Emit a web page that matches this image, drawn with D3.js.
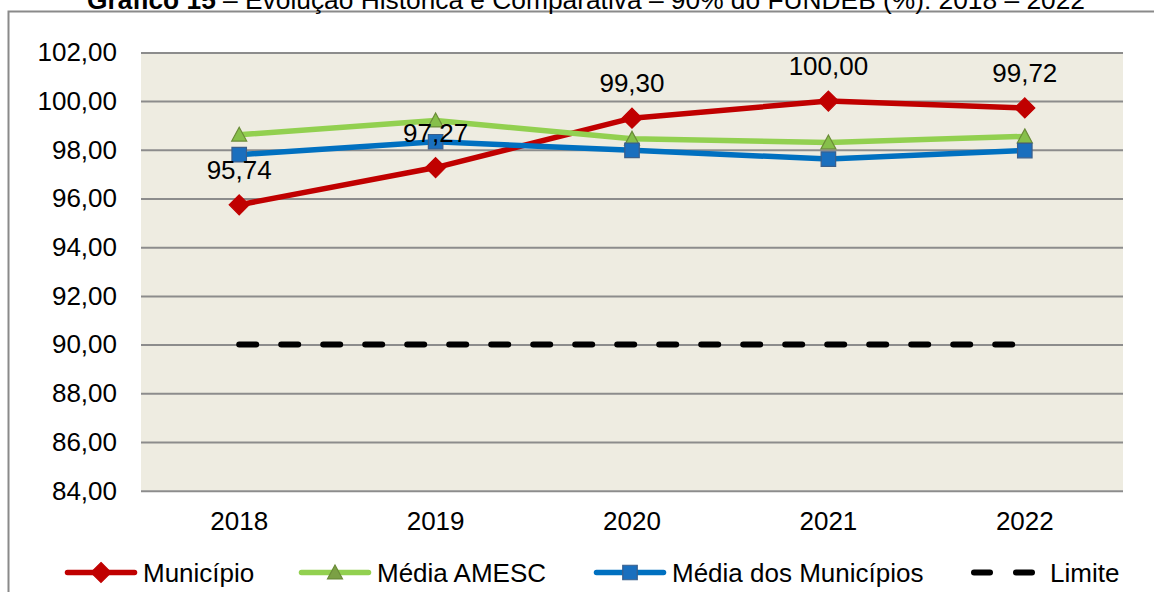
<!DOCTYPE html>
<html>
<head>
<meta charset="utf-8">
<script src="https://cdn.jsdelivr.net/npm/d3@7"></script>
<style>
    body { margin: 0; background: #fff; }
    svg { display: block; font-family: Arial, "Liberation Sans", sans-serif; }
</style>
</head>
<body>
<svg></svg>
<script>
const width = 1154, height = 592;

const years = ['2018', '2019', '2020', '2021', '2022'];
const municipio = [95.74, 97.27, 99.30, 100.00, 99.72];
const mediaAmesc = [98.62, 99.20, 98.45, 98.30, 98.55];
const mediaMunicipios = [97.80, 98.33, 97.98, 97.62, 97.97];
const limite = [90, 90, 90, 90, 90];
const yTicks = [84, 86, 88, 90, 92, 94, 96, 98, 100, 102];
const legendNames = ['Município', 'Média AMESC', 'Média dos Municípios', 'Limite'];

const ptBR = d3.formatLocale({decimal: ',', thousands: '.', grouping: [3], currency: ['R$', '']});
const fmt = ptBR.format('.2f');

const plot = {left: 141, right: 1123, top: 52.4, bottom: 490.7};

const x = d3.scaleBand().domain(years).range([plot.left, plot.right]).padding(0);
const y = d3.scaleLinear().domain([84, 102]).range([plot.bottom, plot.top]);
const cx = function (d) { return x(d) + x.bandwidth() / 2 };

const svg = d3.select('svg').attr('width', width).attr('height', height);

// moldura e título
svg.append('rect')
    .attr('x', 8.5).attr('y', 11.5)
    .attr('width', 1200).attr('height', 700)
    .attr('fill', 'none').attr('stroke', '#8a8a8a').attr('stroke-width', 2);

const title = svg.append('text')
    .attr('x', 87).attr('y', 9)
    .attr('textLength', 998).attr('lengthAdjust', 'spacingAndGlyphs')
    .style('font-size', '26px').attr('fill', '#000');
title.append('tspan').style('font-weight', 'bold').text('Gráfico 15');
title.append('tspan').text(' – Evolução Histórica e Comparativa – 90% do FUNDEB (%): 2018 – 2022');

// área do gráfico
svg.append('rect')
    .attr('x', plot.left).attr('y', plot.top)
    .attr('width', plot.right - plot.left).attr('height', plot.bottom - plot.top)
    .attr('fill', '#eeece1');

const yAxis = svg.append('g')
    .attr('transform', 'translate(' + plot.left + ',0)')
    .call(d3.axisLeft(y).tickValues(yTicks).tickFormat(fmt)
        .tickSize(-(plot.right - plot.left)).tickPadding(24));
yAxis.select('.domain').remove();
yAxis.selectAll('line').attr('stroke', '#8c8c8c').attr('stroke-width', 2);
yAxis.selectAll('text').style('font-size', '26px').attr('fill', '#000')
    .attr('font-family', null);

const xAxis = svg.append('g')
    .attr('transform', 'translate(0,' + plot.bottom + ')')
    .call(d3.axisBottom(x).tickSize(0).tickPadding(21));
xAxis.select('.domain').remove();
xAxis.selectAll('text').style('font-size', '26px').attr('fill', '#000')
    .attr('font-family', null);

// séries
function drawLine(values, color, w, dash) {
    const line = d3.line()
        .x(function (d, i) { return cx(years[i]) })
        .y(function (d) { return y(d) });
    return svg.append('path')
        .datum(values)
        .attr('d', line)
        .attr('fill', 'none')
        .attr('stroke', color)
        .attr('stroke-width', w)
        .attr('stroke-linejoin', 'round')
        .attr('stroke-linecap', dash ? 'round' : 'butt')
        .attr('stroke-dasharray', dash || null);
}

function drawMarkers(values, type, size, fill, stroke) {
    svg.append('g').selectAll('path')
        .data(values)
        .enter().append('path')
        .attr('d', d3.symbol().type(type).size(size))
        .attr('transform', function (d, i) {
            return 'translate(' + cx(years[i]) + ',' + y(d) + ')' + (type === d3.symbolSquare && false ? '' : '')
        })
        .attr('fill', fill)
        .attr('stroke', stroke)
        .attr('stroke-width', 1.2);
}

const diamond = {
    draw: function (ctx, size) {
        const r = Math.sqrt(size) / 2;
        ctx.moveTo(0, -r); ctx.lineTo(r, 0); ctx.lineTo(0, r); ctx.lineTo(-r, 0); ctx.closePath();
    }
};
const triangle = {
    draw: function (ctx, size) {
        const r = Math.sqrt(size) / 2;
        ctx.moveTo(0, -r); ctx.lineTo(r, r * 0.85); ctx.lineTo(-r, r * 0.85); ctx.closePath();
    }
};

drawLine(municipio, '#c00000', 5.5);
drawMarkers(municipio, diamond, 400, '#c00000', '#c00000');

drawLine(mediaAmesc, '#92d050', 5.5);
drawMarkers(mediaAmesc, triangle, 225, '#86bf4a', '#6b8b38');

drawLine(mediaMunicipios, '#0070c0', 5.5);
drawMarkers(mediaMunicipios, d3.symbolSquare, 210, '#1a6fbe', '#3a5f8c');

drawLine(limite, '#000', 6, '17,25');

// rótulos do município
svg.append('g').selectAll('text')
    .data(municipio)
    .enter().append('text')
    .attr('x', function (d, i) { return cx(years[i]) })
    .attr('y', function (d) { return y(d) - 26 })
    .attr('text-anchor', 'middle')
    .style('font-size', '26px')
    .attr('fill', '#000')
    .text(function (d) { return fmt(d) });

// legenda
const legendItems = [
    {name: legendNames[0], x: 65, color: '#c00000', marker: diamond, size: 400, fill: '#c00000', stroke: '#c00000'},
    {name: legendNames[1], x: 299, color: '#92d050', marker: triangle, size: 225, fill: '#7ba045', stroke: '#6b8b38'},
    {name: legendNames[2], x: 594, color: '#0070c0', marker: d3.symbolSquare, size: 210, fill: '#1a6fbe', stroke: '#3a5f8c'},
    {name: legendNames[3], x: 971, color: '#000', dash: true}
];
const ly = 572.5;
const legend = svg.append('g').selectAll('g')
    .data(legendItems)
    .enter().append('g');

legend.each(function (d) {
    const g = d3.select(this);
    if (d.dash) {
        g.append('line').attr('x1', d.x + 3).attr('x2', d.x + 19).attr('y1', ly).attr('y2', ly)
            .attr('stroke', d.color).attr('stroke-width', 6).attr('stroke-linecap', 'round');
        g.append('line').attr('x1', d.x + 45).attr('x2', d.x + 61).attr('y1', ly).attr('y2', ly)
            .attr('stroke', d.color).attr('stroke-width', 6).attr('stroke-linecap', 'round');
        g.append('text').attr('x', 1050).attr('y', ly + 9.5)
            .style('font-size', '26px').attr('fill', '#000').text(d.name);
        return;
    }
    g.append('line').attr('x1', d.x + 2.5).attr('x2', d.x + 69.5).attr('y1', ly).attr('y2', ly)
        .attr('stroke', d.color).attr('stroke-width', 5.5).attr('stroke-linecap', 'round');
    g.append('path')
        .attr('d', d3.symbol().type(d.marker).size(d.size))
        .attr('transform', 'translate(' + (d.x + 36) + ',' + ly + ')')
        .attr('fill', d.fill).attr('stroke', d.stroke).attr('stroke-width', 1.2);
    g.append('text').attr('x', d.x + 78).attr('y', ly + 9.5)
        .style('font-size', '26px').attr('fill', '#000').text(d.name);
});
</script>
</body>
</html>
